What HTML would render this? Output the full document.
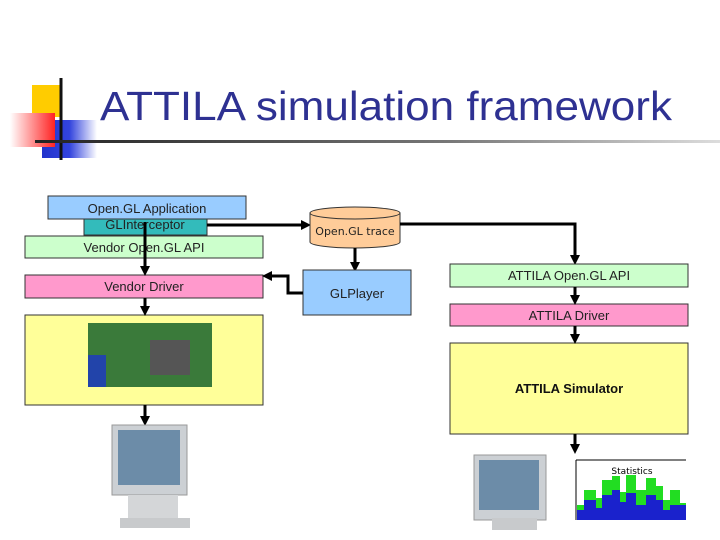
<!DOCTYPE html>
<html><head><meta charset="utf-8"><style>body{margin:0;background:#fff}svg{display:block}</style></head><body>
<svg width="720" height="540" xmlns="http://www.w3.org/2000/svg" font-family="Liberation Sans, sans-serif">
<defs>
<linearGradient id="hl" x1="0" x2="1"><stop offset="0" stop-color="#222"/><stop offset="0.6" stop-color="#777"/><stop offset="1" stop-color="#ddd"/></linearGradient>
<linearGradient id="red" x1="0" x2="1"><stop offset="0" stop-color="#fff"/><stop offset="1" stop-color="#f22"/></linearGradient>
<linearGradient id="blue" x1="0" x2="1"><stop offset="0" stop-color="#2233cc"/><stop offset="0.5" stop-color="#3344dd"/><stop offset="1" stop-color="#fff"/></linearGradient>
<marker id="a" markerWidth="10" markerHeight="10" refX="7" refY="5" orient="auto" markerUnits="userSpaceOnUse"><path d="M0,0 L10,5 L0,10 Z" fill="#000"/></marker>
</defs>
<rect x="32" y="85" width="30" height="32" fill="#ffcc00"/>
<rect x="42" y="120" width="55" height="38" fill="url(#blue)"/>
<rect x="10" y="113" width="45" height="34" fill="url(#red)"/>
<line x1="61" y1="78" x2="61" y2="160" stroke="#111" stroke-width="3"/>
<rect x="35" y="140" width="685" height="3" fill="url(#hl)"/>
<text x="100" y="120" font-size="41" fill="#2e3192" textLength="572" lengthAdjust="spacingAndGlyphs">ATTILA simulation framework</text>

<rect x="48" y="196" width="198" height="23" fill="#99ccff" stroke="#333"/>
<text x="147" y="213" font-size="13" text-anchor="middle" fill="#222">Open.GL Application</text>
<rect x="84" y="219" width="123" height="16" fill="#33bbbb" stroke="#333"/>
<text x="145" y="229" font-size="13" text-anchor="middle" fill="#222">GLInterceptor</text>
<rect x="25" y="236" width="238" height="22" fill="#ccffcc" stroke="#333"/>
<text x="144" y="252" font-size="13" text-anchor="middle" fill="#222">Vendor Open.GL API</text>
<rect x="25" y="275" width="238" height="23" fill="#ff99cc" stroke="#333"/>
<text x="144" y="291" font-size="13" text-anchor="middle" fill="#222">Vendor Driver</text>
<rect x="25" y="315" width="238" height="90" fill="#ffff99" stroke="#333"/>
<rect x="88" y="323" width="124" height="64" fill="#3a7a3a"/>
<rect x="150" y="340" width="40" height="35" fill="#555"/>
<rect x="88" y="355" width="18" height="32" fill="#2244aa"/>

<path d="M145,222 V273" stroke="#000" stroke-width="3" fill="none" marker-end="url(#a)"/>
<path d="M145,298 V313" stroke="#000" stroke-width="3" fill="none" marker-end="url(#a)"/>
<path d="M145,405 V423" stroke="#000" stroke-width="3" fill="none" marker-end="url(#a)"/>

<rect x="112" y="425" width="75" height="70" fill="#ccd0d4" stroke="#999"/>
<rect x="118" y="430" width="62" height="55" fill="#6c8ca8"/>
<rect x="128" y="495" width="50" height="25" fill="#d4d6d8"/>
<rect x="120" y="518" width="70" height="10" fill="#c8cacc"/>

<path d="M207,225 H308" stroke="#000" stroke-width="3" fill="none" marker-end="url(#a)"/>
<path d="M310,213 V242 A45,6 0 0 0 400,242 V213 Z" fill="#ffcc99" stroke="#333"/>
<ellipse cx="355" cy="213" rx="45" ry="6" fill="#ffcc99" stroke="#333"/>
<text x="355" y="235" font-size="11" text-anchor="middle" font-family="DejaVu Sans, sans-serif" fill="#222">Open.GL trace</text>
<path d="M400,224 H575 V262" stroke="#000" stroke-width="3" fill="none" marker-end="url(#a)"/>
<path d="M355,248 V269" stroke="#000" stroke-width="3" fill="none" marker-end="url(#a)"/>
<rect x="303" y="270" width="108" height="45" fill="#99ccff" stroke="#333"/>
<text x="357" y="298" font-size="13" text-anchor="middle" fill="#222">GLPlayer</text>
<path d="M303,293 H288 V276 H265" stroke="#000" stroke-width="3" fill="none" marker-end="url(#a)"/>

<rect x="450" y="264" width="238" height="23" fill="#ccffcc" stroke="#333"/>
<text x="569" y="280" font-size="13" text-anchor="middle" fill="#222">ATTILA Open.GL API</text>
<rect x="450" y="304" width="238" height="22" fill="#ff99cc" stroke="#333"/>
<text x="569" y="320" font-size="13" text-anchor="middle" fill="#222">ATTILA Driver</text>
<rect x="450" y="343" width="238" height="91" fill="#ffff99" stroke="#333"/>
<text x="569" y="393" font-size="13" font-weight="bold" text-anchor="middle" fill="#111">ATTILA Simulator</text>
<path d="M575,287 V302" stroke="#000" stroke-width="3" fill="none" marker-end="url(#a)"/>
<path d="M575,326 V341" stroke="#000" stroke-width="3" fill="none" marker-end="url(#a)"/>
<path d="M575,434 V451" stroke="#000" stroke-width="3" fill="none" marker-end="url(#a)"/>

<rect x="474" y="455" width="72" height="65" fill="#ccd0d4" stroke="#999"/>
<rect x="479" y="460" width="60" height="50" fill="#6c8ca8"/>
<rect x="492" y="518" width="45" height="12" fill="#c8cacc"/>

<line x1="576" y1="460" x2="686" y2="460" stroke="#000"/>
<line x1="576" y1="460" x2="576" y2="520" stroke="#000"/>
<text x="632" y="474" font-size="9" text-anchor="middle" font-family="DejaVu Sans, sans-serif">Statistics</text>
<path d="M577,520 V505 H584 V490 H596 V498 H602 V480 H612 V476 H620 V492 H626 V475 H636 V490 H646 V478 H656 V486 H663 V500 H670 V490 H680 V503 H686 V520 Z" fill="#22dd22"/>
<path d="M577,520 V510 H584 V500 H596 V508 H602 V495 H612 V490 H620 V502 H626 V493 H636 V505 H646 V495 H656 V500 H663 V510 H670 V505 H686 V520 Z" fill="#1a22cc"/>
</svg>
</body></html>
